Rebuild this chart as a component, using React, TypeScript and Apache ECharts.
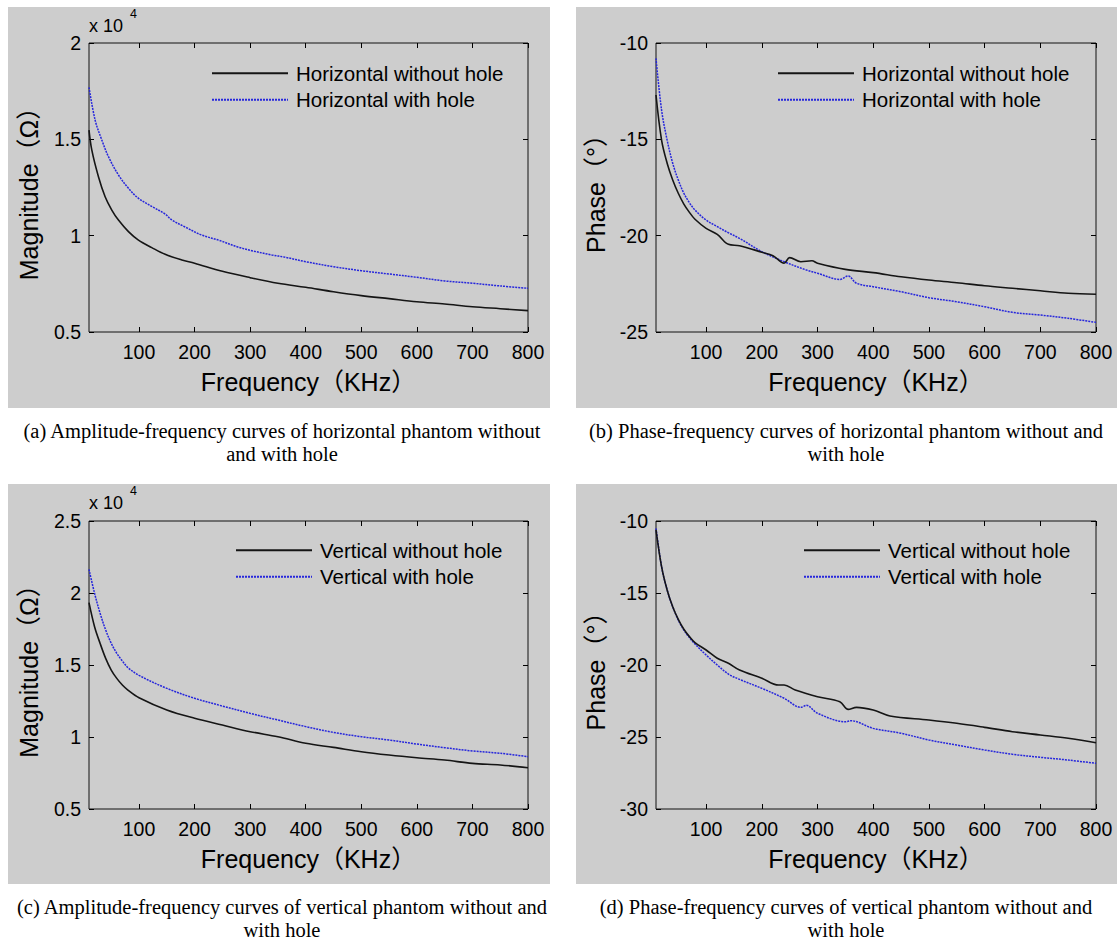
import React, { useEffect, useRef } from "react";
import * as echarts from "echarts";

// ---------- data ----------
const xTicks = [100, 200, 300, 400, 500, 600, 700, 800];

// (a) horizontal magnitude (x 10^4 Ω)
const aBlackFreq = [10, 15, 27, 39, 51, 63, 81, 99, 123, 147, 177, 200, 250, 300, 350, 400, 450, 500, 550, 600, 650, 700, 750, 800];
const aBlackVal = [1.548, 1.445, 1.306, 1.202, 1.133, 1.081, 1.021, 0.977, 0.938, 0.903, 0.874, 0.857, 0.815, 0.782, 0.753, 0.732, 0.709, 0.689, 0.673, 0.657, 0.645, 0.631, 0.621, 0.611];
const aBlueFreq = [10, 21, 33, 45, 63, 81, 99, 123, 147, 159, 183, 213, 243, 279, 303, 339, 363, 400, 450, 500, 550, 600, 650, 700, 750, 800];
const aBlueVal = [1.77, 1.6, 1.497, 1.41, 1.315, 1.246, 1.194, 1.152, 1.112, 1.082, 1.045, 1.003, 0.977, 0.94, 0.922, 0.9, 0.888, 0.865, 0.839, 0.818, 0.801, 0.784, 0.765, 0.753, 0.739, 0.727];

// (b) horizontal phase (°)
const bBlackFreq = [10, 20, 30, 40, 50, 60, 70, 80, 100, 120, 140, 160, 200, 220, 240, 250, 270, 290, 300, 350, 400, 450, 500, 550, 600, 650, 700, 750, 800];
const bBlackVal = [-12.7, -15.04, -16.24, -17.11, -17.8, -18.36, -18.79, -19.15, -19.62, -19.93, -20.45, -20.52, -20.86, -21.04, -21.43, -21.14, -21.35, -21.3, -21.43, -21.75, -21.92, -22.13, -22.3, -22.44, -22.6, -22.73, -22.86, -22.99, -23.04];
const bBlueFreq = [10, 20, 30, 40, 50, 60, 70, 80, 100, 120, 140, 160, 200, 240, 280, 300, 340, 355, 370, 400, 450, 500, 550, 600, 650, 700, 750, 800];
const bBlueVal = [-10.8, -13.48, -15.04, -16.24, -17.11, -17.8, -18.29, -18.67, -19.19, -19.53, -19.85, -20.14, -20.83, -21.35, -21.78, -21.95, -22.27, -22.09, -22.47, -22.65, -22.91, -23.22, -23.43, -23.69, -23.98, -24.12, -24.29, -24.5];

// (c) vertical magnitude (x 10^4 Ω)
const cBlackFreq = [10, 20, 30, 40, 50, 60, 70, 80, 100, 150, 200, 250, 300, 350, 400, 450, 500, 550, 600, 650, 700, 750, 800];
const cBlackVal = [1.933, 1.766, 1.65, 1.546, 1.465, 1.407, 1.361, 1.326, 1.273, 1.188, 1.13, 1.083, 1.037, 1.002, 0.956, 0.928, 0.898, 0.875, 0.856, 0.84, 0.817, 0.806, 0.787];
const cBlueFreq = [10, 20, 30, 40, 50, 60, 70, 80, 100, 150, 200, 250, 300, 350, 400, 450, 500, 550, 600, 650, 700, 750, 800];
const cBlueVal = [2.164, 1.998, 1.859, 1.743, 1.651, 1.581, 1.528, 1.482, 1.428, 1.338, 1.269, 1.215, 1.164, 1.118, 1.072, 1.032, 1.002, 0.979, 0.951, 0.926, 0.903, 0.887, 0.863];

// (d) vertical phase (°)
const dBlackFreq = [10, 20, 30, 40, 50, 60, 70, 80, 100, 120, 140, 160, 200, 230, 240, 260, 300, 340, 355, 370, 400, 430, 500, 550, 600, 650, 700, 750, 800];
const dBlackVal = [-10.62, -13.17, -14.79, -15.95, -16.83, -17.52, -18.03, -18.45, -18.96, -19.53, -19.88, -20.35, -20.92, -21.39, -21.39, -21.74, -22.2, -22.55, -23.08, -22.94, -23.13, -23.54, -23.82, -24.05, -24.33, -24.63, -24.86, -25.09, -25.4];
const dBlueFreq = [10, 20, 30, 40, 50, 60, 70, 80, 100, 120, 140, 160, 200, 240, 270, 280, 300, 350, 360, 400, 450, 500, 550, 600, 650, 700, 750, 800];
const dBlueVal = [-10.51, -13.17, -14.79, -15.95, -16.88, -17.57, -18.1, -18.54, -19.31, -20.0, -20.63, -21.0, -21.62, -22.31, -22.94, -22.8, -23.35, -23.94, -23.87, -24.4, -24.74, -25.21, -25.56, -25.9, -26.2, -26.41, -26.6, -26.83];

const names = {
  hNo: "Horizontal without hole",
  hYes: "Horizontal with hole",
  vNo: "Vertical without hole",
  vYes: "Vertical with hole",
};

const captions = [
  ["(a) Amplitude-frequency curves of horizontal phantom without", "and with hole"],
  ["(b) Phase-frequency curves of horizontal phantom without and", "with hole"],
  ["(c) Amplitude-frequency curves of vertical phantom without and", "with hole"],
  ["(d) Phase-frequency curves of vertical phantom without and", "with hole"],
];

const SANS = "'Liberation Sans', Arial, 'Noto Sans CJK SC', sans-serif";
const SERIF = "'Liberation Serif', 'Times New Roman', serif";
const BLACK = "#151515";
const BLUE = "#2626dc";
const GRAY = "#cdcdcd";

const zip = (f: number[], v: number[]) => f.map((x, i) => [x, v[i]]);

export default function App() {
  const ref = useRef<HTMLDivElement>(null);
  useEffect(() => {
    if (!ref.current) return;
    const chart = echarts.init(ref.current, null, { renderer: "svg" });

    const grids = [
      { left: 89, top: 43, width: 439, height: 289 },
      { left: 656, top: 43, width: 440, height: 289 },
      { left: 89, top: 521, width: 439, height: 288 },
      { left: 656, top: 521, width: 440, height: 288 },
    ];
    const yCfg = [
      { min: 0.5, max: 2, interval: 0.5, name: "Magnitude（Ω）" },
      { min: -25, max: -10, interval: 5, name: "Phase（°）" },
      { min: 0.5, max: 2.5, interval: 0.5, name: "Magnitude（Ω）" },
      { min: -30, max: -10, interval: 5, name: "Phase（°）" },
    ];

    const tick = { inside: true, length: 5, lineStyle: { color: "#000", width: 1 } };
    const xAxis: any[] = [];
    const yAxis: any[] = [];
    grids.forEach((_, i) => {
      xAxis.push({
        type: "value", gridIndex: i, min: 10, max: 800, position: "bottom",
        axisLine: { show: false }, splitLine: { show: false },
        axisTick: { ...tick, customValues: xTicks },
        axisLabel: { customValues: xTicks, fontSize: 19.5, color: "#000", fontFamily: SANS, margin: 10 },
        name: "Frequency（KHz）", nameLocation: "middle", nameGap: 37,
        nameTextStyle: { fontSize: 25, color: "#000", fontFamily: SANS },
      });
      xAxis.push({
        type: "value", gridIndex: i, min: 10, max: 800, position: "top",
        axisLine: { show: false }, splitLine: { show: false },
        axisTick: { ...tick, customValues: xTicks },
        axisLabel: { show: false },
      });
      const y = yCfg[i];
      yAxis.push({
        type: "value", gridIndex: i, min: y.min, max: y.max, interval: y.interval, position: "left",
        axisLine: { show: false }, splitLine: { show: false },
        axisTick: tick,
        axisLabel: { fontSize: 19.5, color: "#000", fontFamily: SANS, margin: 8 },
        name: y.name, nameLocation: "middle", nameGap: 48,
        nameTextStyle: { fontSize: 25, color: "#000", fontFamily: SANS },
      });
      yAxis.push({
        type: "value", gridIndex: i, min: y.min, max: y.max, interval: y.interval, position: "right",
        axisLine: { show: false }, splitLine: { show: false },
        axisTick: tick,
        axisLabel: { show: false },
      });
    });

    const mk = (name: string, i: number, data: number[][], blue: boolean) => ({
      type: "line", name, xAxisIndex: 2 * i, yAxisIndex: 2 * i, data,
      symbol: "none", showSymbol: false, smooth: 0.35,
      lineStyle: blue ? { color: BLUE, width: 1.5, type: [2, 1] } : { color: BLACK, width: 1.6 },
      itemStyle: { color: blue ? BLUE : BLACK },
      z: blue ? 3 : 4,
    });

    const series = [
      mk(names.hNo, 0, zip(aBlackFreq, aBlackVal), false),
      mk(names.hYes, 0, zip(aBlueFreq, aBlueVal), true),
      mk(names.hNo, 1, zip(bBlackFreq, bBlackVal), false),
      mk(names.hYes, 1, zip(bBlueFreq, bBlueVal), true),
      mk(names.vNo, 2, zip(cBlackFreq, cBlackVal), false),
      mk(names.vYes, 2, zip(cBlueFreq, cBlueVal), true),
      mk(names.vNo, 3, zip(dBlackFreq, dBlackVal), false),
      mk(names.vYes, 3, zip(dBlueFreq, dBlueVal), true),
    ];

    const legendBase = {
      orient: "vertical", padding: 0, itemWidth: 76, itemHeight: 14, itemGap: 6,
      selectedMode: false,
      itemStyle: { opacity: 0 },
      textStyle: { fontSize: 20.5, color: "#000", fontFamily: SANS, lineHeight: 20, padding: [0, 0, 0, 3] },
    };
    const legend = [
      { ...legendBase, left: 211, top: 63, data: [names.hNo, names.hYes] },
      { ...legendBase, left: 777, top: 63, data: [names.hNo, names.hYes] },
      { ...legendBase, left: 235, top: 540, data: [names.vNo, names.vYes] },
      { ...legendBase, left: 803, top: 540, data: [names.vNo, names.vYes] },
    ];

    const panels = [
      { x: 8, y: 7, w: 542, h: 401 },
      { x: 576, y: 7, w: 541, h: 401 },
      { x: 8, y: 484, w: 542, h: 400 },
      { x: 576, y: 484, w: 541, h: 400 },
    ];
    const capPos = [
      { x: 282, y: 420 },
      { x: 846, y: 420 },
      { x: 282, y: 896 },
      { x: 846, y: 896 },
    ];
    const graphic: any[] = [];
    panels.forEach((p) => {
      graphic.push({ type: "rect", z: -10, shape: { x: p.x, y: p.y, width: p.w, height: p.h }, style: { fill: GRAY } });
    });
    capPos.forEach((c, i) => {
      graphic.push({
        type: "text", x: c.x, y: c.y,
        style: {
          text: captions[i].join("\n"), fontSize: 20.5, lineHeight: 22.5, fontFamily: SERIF, fill: "#000",
          align: "center", verticalAlign: "top",
        },
      });
    });
    [26, 503].forEach((yy) => {
      graphic.push({ type: "text", x: 89, y: yy, style: { text: "x 10", fontSize: 18, fontFamily: SANS, fill: "#000", align: "left", verticalAlign: "middle" } });
      graphic.push({ type: "text", x: 130, y: yy - 12, style: { text: "4", fontSize: 12.5, fontFamily: SANS, fill: "#000", align: "left", verticalAlign: "middle" } });
    });

    chart.setOption({
      animation: false,
      backgroundColor: "#ffffff",
      grid: grids.map((g) => ({ ...g, show: true, borderColor: "#111", borderWidth: 1, backgroundColor: "transparent" })),
      xAxis, yAxis, series, legend, graphic,
    });
    return () => chart.dispose();
  }, []);
  return <div ref={ref} style={{ position: "fixed", left: 0, top: 0, width: 1117, height: 949 }} />;
}
